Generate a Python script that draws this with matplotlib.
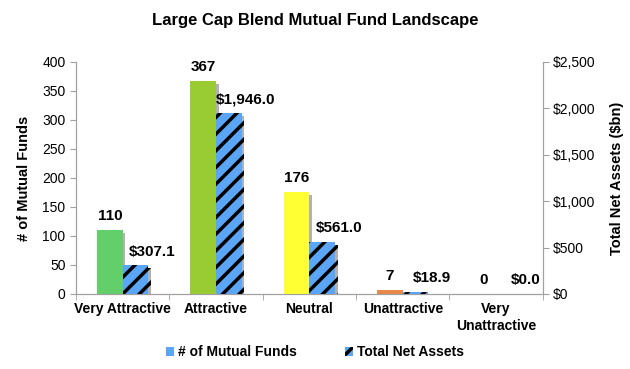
import matplotlib
matplotlib.use('Agg')
import matplotlib.pyplot as plt
import matplotlib.patheffects as pe
from matplotlib.patches import Patch
from matplotlib.ticker import FuncFormatter
import numpy as np

plt.rcParams['font.family'] = ['Liberation Sans', 'DejaVu Sans']
plt.rcParams['hatch.linewidth'] = 2.5

# data
categories = ['Very Attractive', 'Attractive', 'Neutral', 'Unattractive', 'Very\nUnattractive']
num_funds = [110, 367, 176, 7, 0]
net_assets = [307.1, 1946.0, 561.0, 18.9, 0.0]
fund_colors = ['#62cf6a', '#99cc33', '#ffff33', '#e8894a', '#a9a9a9']
asset_color = '#5aa5f5'

fig = plt.figure(figsize=(6.3, 3.69), dpi=100)
ax = fig.add_axes([0.1206, 0.2033, 0.741, 0.6287])
ax2 = ax.twinx()

x = np.arange(len(categories))
w = 0.275
shadow = [pe.SimplePatchShadow(offset=(2, -2), shadow_rgbFace='#808080', alpha=0.6), pe.Normal()]

bars1 = ax.bar(x - w / 2, num_funds, w, color=fund_colors, zorder=3)
bars2 = ax2.bar(x + w / 2, net_assets, w, color=asset_color, edgecolor='black',
                hatch='//', linewidth=0, zorder=3)
for b in list(bars1) + list(bars2):
    b.set_path_effects(shadow)

for xi, v in zip(x, num_funds):
    ax.annotate(str(v), (xi - w / 2, v), xytext=(0, 5), textcoords='offset points',
                ha='center', va='bottom', fontsize=11, fontweight='bold')
for xi, v in zip(x, net_assets):
    ax2.annotate('${:,.1f}'.format(v), (xi + w / 2, v), xytext=(12, 5), textcoords='offset points',
                 ha='center', va='bottom', fontsize=11, fontweight='bold')

ax.set_xlim(-0.5, len(categories) - 0.5)
ax.set_ylim(0, 400)
ax2.set_ylim(0, 2500)
ax.set_yticks(np.arange(0, 401, 50))
ax2.set_yticks(np.arange(0, 2501, 500))
ax2.yaxis.set_major_formatter(FuncFormatter(lambda v, p: '${:,.0f}'.format(v)))

ax.set_xticks(x)
ax.set_xticklabels(categories, fontweight='bold', fontsize=10)
ax.tick_params(axis='x', length=0, pad=6)
ax.set_xticks(np.arange(-0.5, len(categories)), minor=True)
ax.tick_params(axis='x', which='minor', length=4, direction='out', color='#a0a0a0')

for a in (ax, ax2):
    a.spines['top'].set_visible(False)
    for s in ('left', 'right', 'bottom'):
        a.spines[s].set_color('#a0a0a0')
    a.tick_params(axis='y', length=4, color='#a0a0a0', labelsize=10, direction='out')

ax.set_ylabel('# of Mutual Funds', fontweight='bold', fontsize=10.5, labelpad=8)
ax2.set_ylabel('Total Net Assets ($bn)', fontweight='bold', fontsize=10.5, labelpad=10)

fig.suptitle('Large Cap Blend Mutual Fund Landscape', fontweight='bold', fontsize=12, y=0.965)

handles = [Patch(facecolor=asset_color, label='# of Mutual Funds'),
           Patch(facecolor=asset_color, edgecolor='black', hatch='//', linewidth=0, label='Total Net Assets')]
fig.legend(handles=handles, loc='center', bbox_to_anchor=(0.5, 0.045), ncol=2, frameon=False,
           prop={'weight': 'bold', 'size': 10}, handlelength=0.55, handleheight=0.55,
           handletextpad=0.3, columnspacing=3.5)

fig.savefig('out.png', dpi=100)
